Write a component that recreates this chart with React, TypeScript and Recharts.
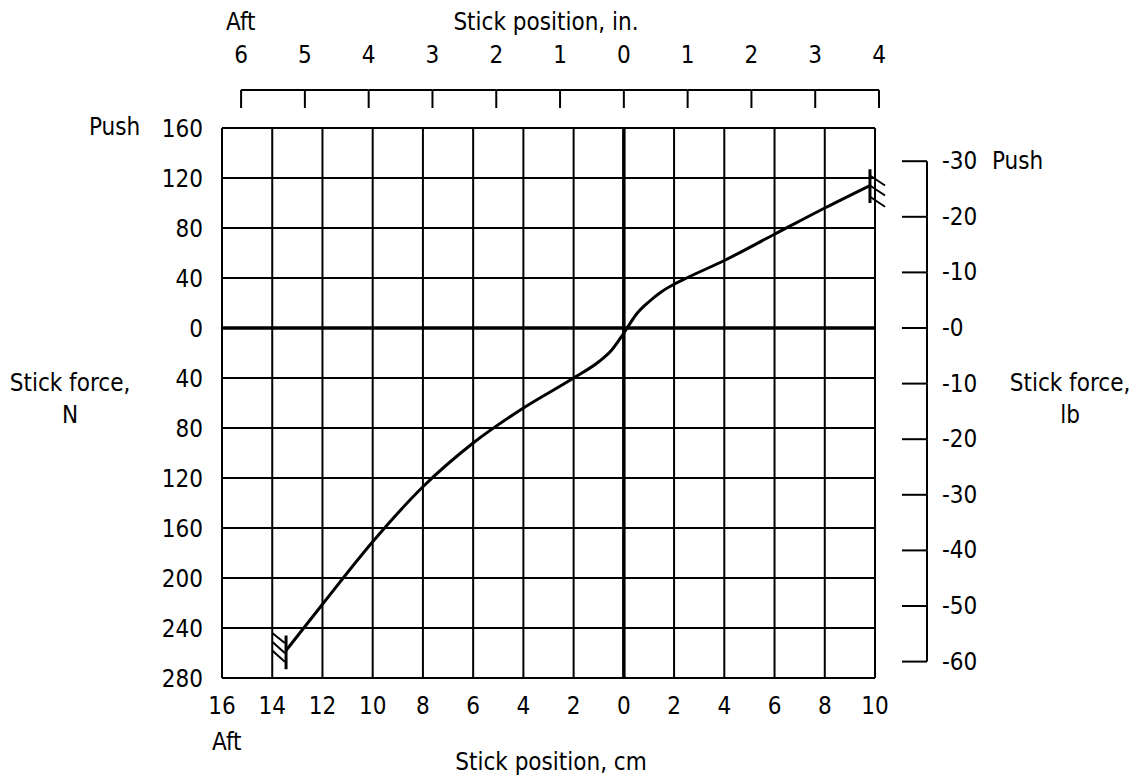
import { LineChart, Line, XAxis, YAxis, CartesianGrid, ReferenceLine } from 'recharts';

// stick position (cm, aft negative) vs stick force (N, push positive)
const positionCm = [-13.45, -12, -10, -8, -6, -4, -2, -1, -0.5, 0, 0.5, 1, 1.5, 2, 2.5, 4, 6, 8, 9.8];
const forceN = [-258, -221, -171, -127, -92, -64, -40, -27, -18, -4, 11, 21, 29, 35, 40, 54, 75, 96, 114];

const cmTicks = [-16, -14, -12, -10, -8, -6, -4, -2, 0, 2, 4, 6, 8, 10];
const inchTicks = [-6, -5, -4, -3, -2, -1, 0, 1, 2, 3, 4];
const newtonTicks = [160, 120, 80, 40, 0, -40, -80, -120, -160, -200, -240, -280];
const poundTicks = [-60, -50, -40, -30, -20, -10, 0, 10, 20, 30];

const CM_PER_IN = 2.54;
const N_PER_LB = 4.448;

// stops at each end of travel
const aftStop = [{ x: -13.45, y: -246 }, { x: -13.45, y: -273 }];
const aftHatch = [
  [{ x: -14, y: -244 }, { x: -13.5, y: -252 }],
  [{ x: -14, y: -251 }, { x: -13.5, y: -260 }],
  [{ x: -14, y: -258 }, { x: -13.5, y: -267 }],
];
const fwdStop = [{ x: 9.8, y: 127 }, { x: 9.8, y: 100 }];
const fwdHatch = [
  [{ x: 9.8, y: 122 }, { x: 10.4, y: 114 }],
  [{ x: 9.8, y: 114 }, { x: 10.4, y: 106 }],
  [{ x: 9.8, y: 105 }, { x: 10.4, y: 97 }],
];

const data = positionCm.map((x, i) => ({
  x,
  f: forceN[i],
  xin: x / CM_PER_IN,
  flb: forceN[i] / N_PER_LB,
}));

const W = 1137;
const H = 775;
const PLOT_LEFT = 214;
const PLOT_TOP = 120;
const PLOT_W = 653;
const PLOT_H = 550;
const PX_PER_CM = PLOT_W / 26;
const PX_PER_N = PLOT_H / 440;

const FONT = "'DejaVu Sans Condensed', 'Liberation Sans Narrow', sans-serif";
const txt = { fontFamily: FONT, fontSize: 24, fill: '#000' };

const InchTick = (props: any) => {
  const { x, payload } = props;
  const v = payload.value;
  const step = CM_PER_IN * PX_PER_CM;
  const isLast = v === inchTicks[inchTicks.length - 1];
  return (
    <g>
      <text x={x} y={47} textAnchor="middle" dominantBaseline="central" {...txt}>
        {Math.abs(v)}
      </text>
      <line x1={x} y1={82} x2={x} y2={100} stroke="#000" strokeWidth={2} />
      {!isLast && <line x1={x} y1={82} x2={x + step} y2={82} stroke="#000" strokeWidth={2} />}
    </g>
  );
};

const PoundTick = (props: any) => {
  const { y, payload } = props;
  const v = payload.value;
  const step = 10 * N_PER_LB * PX_PER_N;
  const isTop = v === poundTicks[poundTicks.length - 1];
  return (
    <g>
      <line x1={894} y1={y} x2={919} y2={y} stroke="#000" strokeWidth={2} />
      {!isTop && <line x1={919} y1={y} x2={919} y2={y - step} stroke="#000" strokeWidth={2} />}
      <text x={934} y={y} textAnchor="start" dominantBaseline="central" {...txt}>
        {'-' + Math.abs(v)}
      </text>
      {isTop && (
        <text x={984} y={y} textAnchor="start" dominantBaseline="central" {...txt}>
          Push
        </text>
      )}
    </g>
  );
};

const label = (text: string, left: number, top: number, center = true) => (
  <div
    style={{
      position: 'absolute',
      left,
      top,
      transform: center ? 'translate(-50%, -50%)' : 'translate(0, -50%)',
      fontFamily: FONT,
      fontSize: 24,
      lineHeight: 1,
      whiteSpace: 'nowrap',
      color: '#000',
    }}
  >
    {text}
  </div>
);

export default function App() {
  return (
    <div style={{ position: 'relative', width: W, height: H, background: '#fff' }}>
      <LineChart
        width={W}
        height={H}
        data={data}
        margin={{ top: 0, right: 150, left: PLOT_LEFT - 60, bottom: H - PLOT_TOP - PLOT_H - 40 }}
      >
        <CartesianGrid xAxisId="cm" yAxisId="n" stroke="#000" strokeWidth={2} strokeOpacity={1} />
        <XAxis
          xAxisId="cm"
          dataKey="x"
          type="number"
          domain={[-16, 10]}
          ticks={cmTicks}
          interval={0}
          height={40}
          axisLine={false}
          tickLine={false}
          tickSize={0}
          tickMargin={19}
          tick={txt}
          tickFormatter={(v: number) => String(Math.abs(v))}
        />
        <XAxis
          xAxisId="in"
          dataKey="xin"
          orientation="top"
          type="number"
          domain={[-16 / CM_PER_IN, 10 / CM_PER_IN]}
          allowDataOverflow
          ticks={inchTicks}
          interval={0}
          height={PLOT_TOP}
          axisLine={false}
          tickLine={false}
          tick={<InchTick />}
        />
        <YAxis
          yAxisId="n"
          type="number"
          domain={[-280, 160]}
          ticks={newtonTicks}
          interval={0}
          width={60}
          axisLine={false}
          tickLine={false}
          tickSize={0}
          tickMargin={19}
          tick={txt}
          tickFormatter={(v: number) => String(Math.abs(v))}
        />
        <YAxis
          yAxisId="lb"
          orientation="right"
          type="number"
          domain={[-280 / N_PER_LB, 160 / N_PER_LB]}
          allowDataOverflow
          ticks={poundTicks}
          interval={0}
          width={120}
          axisLine={false}
          tickLine={false}
          tick={<PoundTick />}
        />
        <ReferenceLine xAxisId="cm" yAxisId="n" x={0} stroke="#000" strokeWidth={3.5} />
        <ReferenceLine xAxisId="cm" yAxisId="n" y={0} stroke="#000" strokeWidth={3.5} />
        {/* same curve in inch / lb units, kept invisible so the secondary scales exist */}
        <Line
          xAxisId="in"
          yAxisId="lb"
          dataKey="flb"
          type="monotone"
          stroke="none"
          dot={false}
          activeDot={false}
          isAnimationActive={false}
        />
        <Line
          xAxisId="cm"
          yAxisId="n"
          dataKey="f"
          type="monotone"
          stroke="#000"
          strokeWidth={3}
          dot={false}
          isAnimationActive={false}
        />
        <ReferenceLine xAxisId="cm" yAxisId="n" segment={aftStop} stroke="#000" strokeWidth={3} ifOverflow="visible" />
        {aftHatch.map((s, i) => (
          <ReferenceLine key={'a' + i} xAxisId="cm" yAxisId="n" segment={s} stroke="#000" strokeWidth={2} ifOverflow="visible" />
        ))}
        <ReferenceLine xAxisId="cm" yAxisId="n" segment={fwdStop} stroke="#000" strokeWidth={3} ifOverflow="visible" />
        {fwdHatch.map((s, i) => (
          <ReferenceLine key={'f' + i} xAxisId="cm" yAxisId="n" segment={s} stroke="#000" strokeWidth={2} ifOverflow="visible" />
        ))}
      </LineChart>
      {label('Aft', 218, 14, false)}
      {label('Stick position,  in.', 538, 14)}
      {label('Push', 81, 119, false)}
      {label('Stick force,', 62, 375)}
      {label('N', 62, 407)}
      {label('Stick force,', 1062, 375)}
      {label('lb', 1062, 407)}
      {label('Aft', 204, 734, false)}
      {label('Stick position,  cm', 543, 754)}
    </div>
  );
}
